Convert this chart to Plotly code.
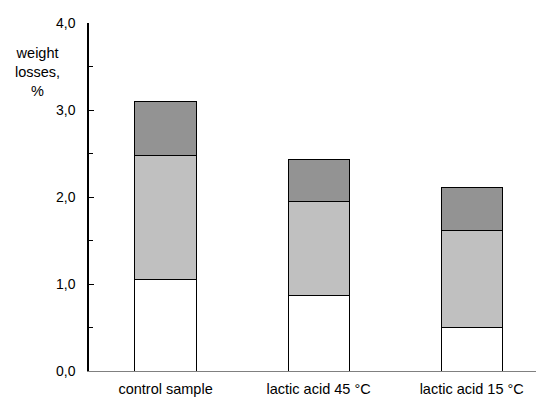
import plotly.graph_objects as go

categories = ["control sample", "lactic acid 45 °C", "lactic acid 15 °C"]
seg_bottom = [1.05, 0.87, 0.50]
seg_middle = [1.43, 1.08, 1.12]
seg_top = [0.62, 0.48, 0.49]
tick_vals = [0, 1, 2, 3, 4]
tick_text = ["0,0", "1,0", "2,0", "3,0", "4,0"]

fig = go.Figure()
for vals, col in [(seg_bottom, "#ffffff"), (seg_middle, "#c0c0c0"), (seg_top, "#939393")]:
    fig.add_trace(go.Bar(
        x=list(range(len(categories))), y=vals, marker=dict(color=col, line=dict(color="#000000", width=1)),
        width=0.4, showlegend=False, hoverinfo="skip"))

fig.update_layout(
    barmode="stack",
    width=536, height=401,
    margin=dict(l=89, r=0, t=23, b=30),
    paper_bgcolor="white", plot_bgcolor="white",
    font=dict(family="Liberation Sans, Arial", size=14, color="#000000"),
    xaxis=dict(range=[-0.5, 2.42], tickmode="array", tickvals=list(range(len(categories))),
               ticktext=categories, showgrid=False, zeroline=False,
               showline=True, linecolor="#808080", linewidth=1, ticks="", ticklen=0,
               tickfont=dict(size=14.5), ticklabelstandoff=5),
    yaxis=dict(range=[0, 4], tickmode="array", tickvals=tick_vals, ticktext=tick_text,
               showgrid=False, zeroline=False, showline=True, linecolor="#000000", linewidth=1.5,
               ticks="inside", ticklen=5, tickcolor="#000000", tickfont=dict(size=14),
               ticklabelstandoff=9,
               minor=dict(tickvals=[0.5, 1.5, 2.5, 3.5], ticks="inside", ticklen=4, tickcolor="#000000")),
    annotations=[dict(text="weight<br>losses,<br>%", xref="paper", yref="paper",
                      x=-0.116, y=0.86, xanchor="center", yanchor="middle",
                      showarrow=False, font=dict(size=14.5))]
)
fig.write_html("out.html")
